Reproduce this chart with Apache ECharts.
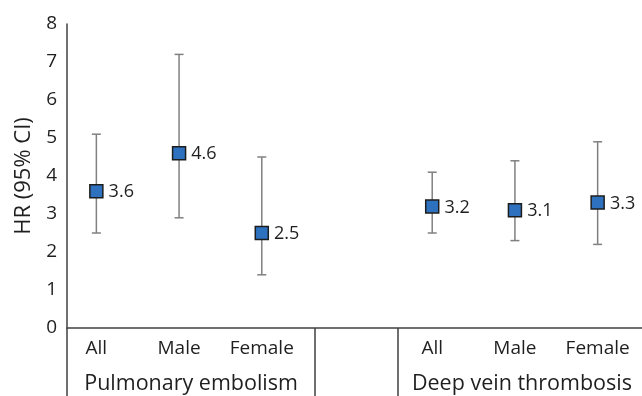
<!DOCTYPE html>
<html>
<head>
<meta charset="utf-8">
<script src="https://cdn.jsdelivr.net/npm/echarts@6/dist/echarts.min.js"></script>
<style>
html,body{margin:0;padding:0;background:#fff;}
#chart{width:642px;height:396px;}
</style>
</head>
<body>
<div id="chart"></div>
<script>
// ---- data ----
const categories = ['All', 'Male', 'Female', '', 'All', 'Male', 'Female'];
const groupNames = ['Pulmonary embolism', 'Deep vein thrombosis'];
const peIndex = [0, 1, 2];
const peHR = [3.6, 4.6, 2.5];
const peLow = [2.5, 2.9, 1.4];
const peHigh = [5.1, 7.2, 4.5];
const dvtIndex = [4, 5, 6];
const dvtHR = [3.2, 3.1, 3.3];
const dvtLow = [2.5, 2.3, 2.2];
const dvtHigh = [4.1, 4.4, 4.9];
const yMin = 0, yMax = 8, yStep = 1;

// ---- styles ----
const FONT = '"Open Sans", "Noto Sans", sans-serif';
const TXT = '#1f1f1f';
const AXIS = '#404040';
const ERR = '#808080';
const PE_SHIFT = -12, DVT_SHIFT = -7;

function errSeries(idx, lo, hi, shift) {
  return {
    type: 'custom',
    xAxisIndex: 0,
    data: idx.map((c, i) => [c, lo[i], hi[i]]),
    renderItem: function (params, api) {
      const top = api.coord([api.value(0), api.value(2)]);
      const bot = api.coord([api.value(0), api.value(1)]);
      const x = top[0] + shift;
      const cw = 4.5;
      const st = { stroke: ERR, lineWidth: 1.5 };
      return {
        type: 'group',
        children: [
          { type: 'line', shape: { x1: x, y1: top[1], x2: x, y2: bot[1] }, style: st },
          { type: 'line', shape: { x1: x - cw, y1: top[1], x2: x + cw, y2: top[1] }, style: st },
          { type: 'line', shape: { x1: x - cw, y1: bot[1], x2: x + cw, y2: bot[1] }, style: st }
        ]
      };
    },
    z: 2
  };
}

function pointSeries(idx, vals, shift) {
  return {
    type: 'scatter',
    xAxisIndex: 0,
    data: idx.map((c, i) => [c, vals[i]]),
    symbol: 'rect',
    symbolSize: 13,
    symbolOffset: [shift, 0],
    itemStyle: { color: '#2e72bf', borderColor: '#1c1c1c', borderWidth: 1.5, opacity: 1 },
    label: {
      show: true,
      position: 'right',
      distance: 5,
      offset: [0, 1],
      formatter: p => p.value[1].toFixed(1),
      fontFamily: FONT, fontSize: 18, color: TXT
    },
    emphasis: { disabled: true },
    z: 3
  };
}

const groupCats = categories.map((c, i) => i === 1 ? groupNames[0] : (i === 5 ? groupNames[1] : ''));

const chart = echarts.init(document.getElementById('chart'), null, { renderer: 'canvas' });
chart.setOption({
  animation: false,
  backgroundColor: '#fff',
  grid: { left: 67, right: -4, top: 24, bottom: 68, containLabel: false, outerBoundsMode: 'none' },
  xAxis: [
    {
      type: 'category',
      data: categories,
      boundaryGap: true,
      position: 'bottom',
      axisLine: { show: true, lineStyle: { color: AXIS, width: 1.5 } },
      axisTick: {
        show: true,
        length: 70,
        interval: function (i) { return i === 0 || i === 3 || i === 4; },
        lineStyle: { color: AXIS, width: 1.5 }
      },
      axisLabel: {
        interval: 0,
        margin: 11,
        fontFamily: FONT, fontSize: 19, color: TXT,
        formatter: function (v, i) {
          if (!v) return '';
          return (i < 3 ? '{a|' : '{b|') + v + '}';
        },
        rich: {
          a: { fontFamily: FONT, fontSize: 19, color: TXT, padding: [0, -2 * PE_SHIFT, 0, 0] },
          b: { fontFamily: FONT, fontSize: 19, color: TXT, padding: [0, -2 * DVT_SHIFT, 0, 0] }
        }
      },
      splitLine: { show: false }
    },
    {
      type: 'category',
      data: groupCats,
      boundaryGap: true,
      position: 'bottom',
      axisLine: { show: false },
      axisTick: { show: false },
      axisLabel: { interval: 0, margin: 45, fontFamily: FONT, fontSize: 21.5, color: TXT },
      splitLine: { show: false }
    }
  ],
  yAxis: {
    type: 'value',
    min: yMin, max: yMax, interval: yStep,
    name: 'HR (95% CI)',
    nameLocation: 'middle',
    nameGap: 32,
    nameTextStyle: { fontFamily: FONT, fontSize: 22, color: TXT },
    axisLine: { show: true, lineStyle: { color: AXIS, width: 1.5 } },
    axisTick: { show: false },
    axisLabel: { margin: 10, fontFamily: FONT, fontSize: 19, color: TXT },
    splitLine: { show: false }
  },
  series: [
    errSeries(peIndex, peLow, peHigh, PE_SHIFT),
    errSeries(dvtIndex, dvtLow, dvtHigh, DVT_SHIFT),
    pointSeries(peIndex, peHR, PE_SHIFT),
    pointSeries(dvtIndex, dvtHR, DVT_SHIFT)
  ]
});
</script>
</body>
</html>
